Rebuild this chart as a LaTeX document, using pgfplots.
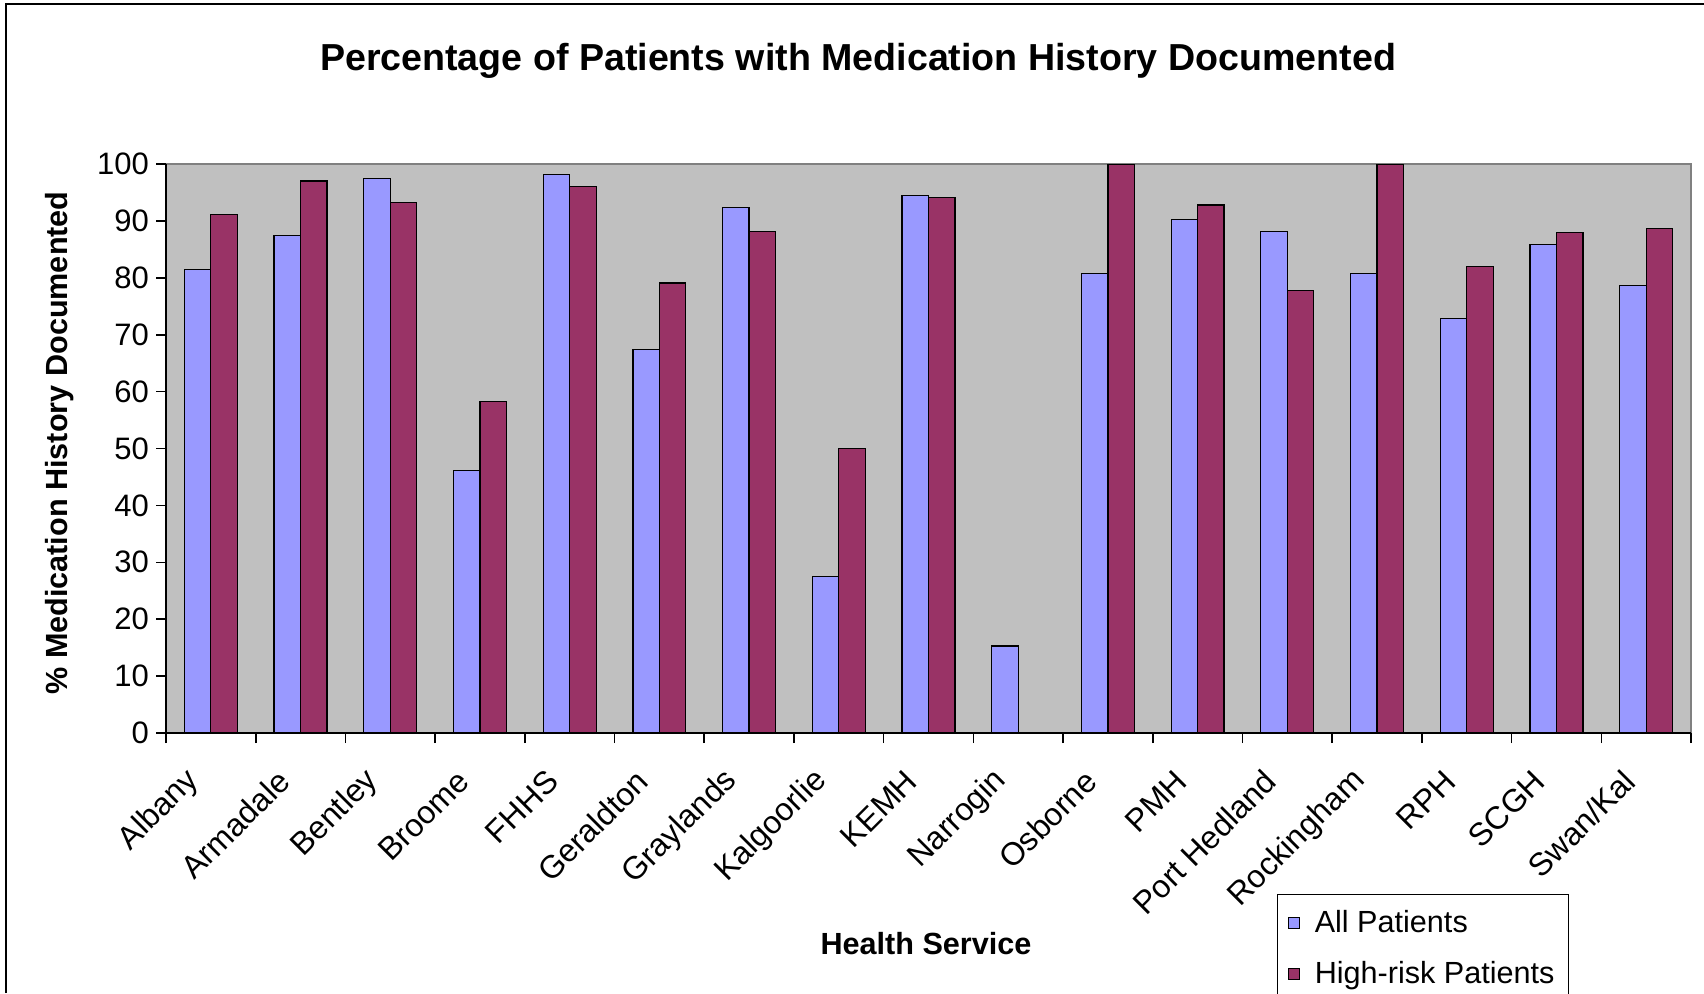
\documentclass[border=0pt]{standalone}
\usepackage{fontspec}
\setmainfont{Liberation Sans}
\usepackage{pgfplots}
\pgfplotsset{compat=1.18}
\definecolor{allc}{HTML}{9999FF}
\definecolor{highc}{HTML}{993366}
\definecolor{bgc}{HTML}{C0C0C0}
\definecolor{edgec}{HTML}{808080}
\begin{document}
\begin{tikzpicture}
\path[use as bounding box] (0pt,0pt) rectangle (852pt,496.5pt);
\draw[black, line width=1.3pt] (3pt,0pt) -- (3pt,494.5pt) -- (852pt,494.5pt);
\node[font=\bfseries\fontsize{18.8}{22}\selectfont] at (429pt,466pt) {Percentage of Patients with Medication History Documented};
\node[font=\bfseries\fontsize{15.3}{18}\selectfont, rotate=90] at (30pt,275pt) {\% Medication History Documented};
\node[font=\bfseries\fontsize{15.3}{18}\selectfont] at (463pt,24.5pt) {Health Service};
\begin{axis}[
  at={(83pt,130pt)}, anchor=south west,
  width=762.5pt, height=284.5pt, scale only axis,
  xmin=-0.5, xmax=16.5, ymin=0, ymax=100,
  ybar=0pt, bar width=0.295,
  axis x line*=bottom, axis y line*=left,
  axis line style={-, black, line width=0.8pt},
  axis background/.style={fill=bgc, draw=edgec, line width=0.8pt},
  ytick={0,10,...,100},
  xtick={-0.5,0.5,...,16.5},
  xticklabel=\empty,
  extra x ticks={0,1,...,16},
  extra x tick labels={Albany,Armadale,Bentley,Broome,FHHS,Geraldton,Graylands,Kalgoorlie,KEMH,Narrogin,Osborne,PMH,Port Hedland,Rockingham,RPH,SCGH,Swan/Kal},
  extra x tick style={major tick length=0pt, tick label style={font=\fontsize{16}{19}\selectfont, xshift=-6pt, yshift=-19pt, rotate=45, anchor=east}},
  tick align=outside,
  major tick length=5pt,
  tick style={black, line width=0.8pt},
  yticklabel style={font=\fontsize{15.5}{18}\selectfont},
  /pgf/number format/assume math mode=true,
  legend style={at={(0.7285,-0.283)}, anchor=north west, draw=black, line width=0.6pt,
    font=\fontsize{15.3}{18}\selectfont, row sep=9pt, inner xsep=5pt, inner ysep=6pt,
    /tikz/every odd column/.append style={column sep=5.5pt}},
  legend cell align=left,
  legend image code/.code={\draw[#1, line width=0.5pt] (0pt,-2.8pt) rectangle (5.6pt,2.8pt);},
]
\addplot[fill=allc, draw=black, line width=0.6pt] coordinates {
(0,81.5) (1,87.4) (2,97.4) (3,46.2) (4,98.2) (5,67.4) (6,92.4) (7,27.5) (8,94.4) (9,15.3) (10,80.8) (11,90.2) (12,88.2) (13,80.8) (14,72.8) (15,85.8) (16,78.6)};
\addplot[fill=highc, draw=black, line width=0.6pt] coordinates {
(0,91.1) (1,97.0) (2,93.3) (3,58.2) (4,96.1) (5,79.1) (6,88.2) (7,50.0) (8,94.1) (9,0) (10,100) (11,92.8) (12,77.8) (13,100) (14,82.0) (15,87.9) (16,88.6)};
\legend{All Patients, High-risk Patients}
\end{axis}
\end{tikzpicture}
\end{document}
